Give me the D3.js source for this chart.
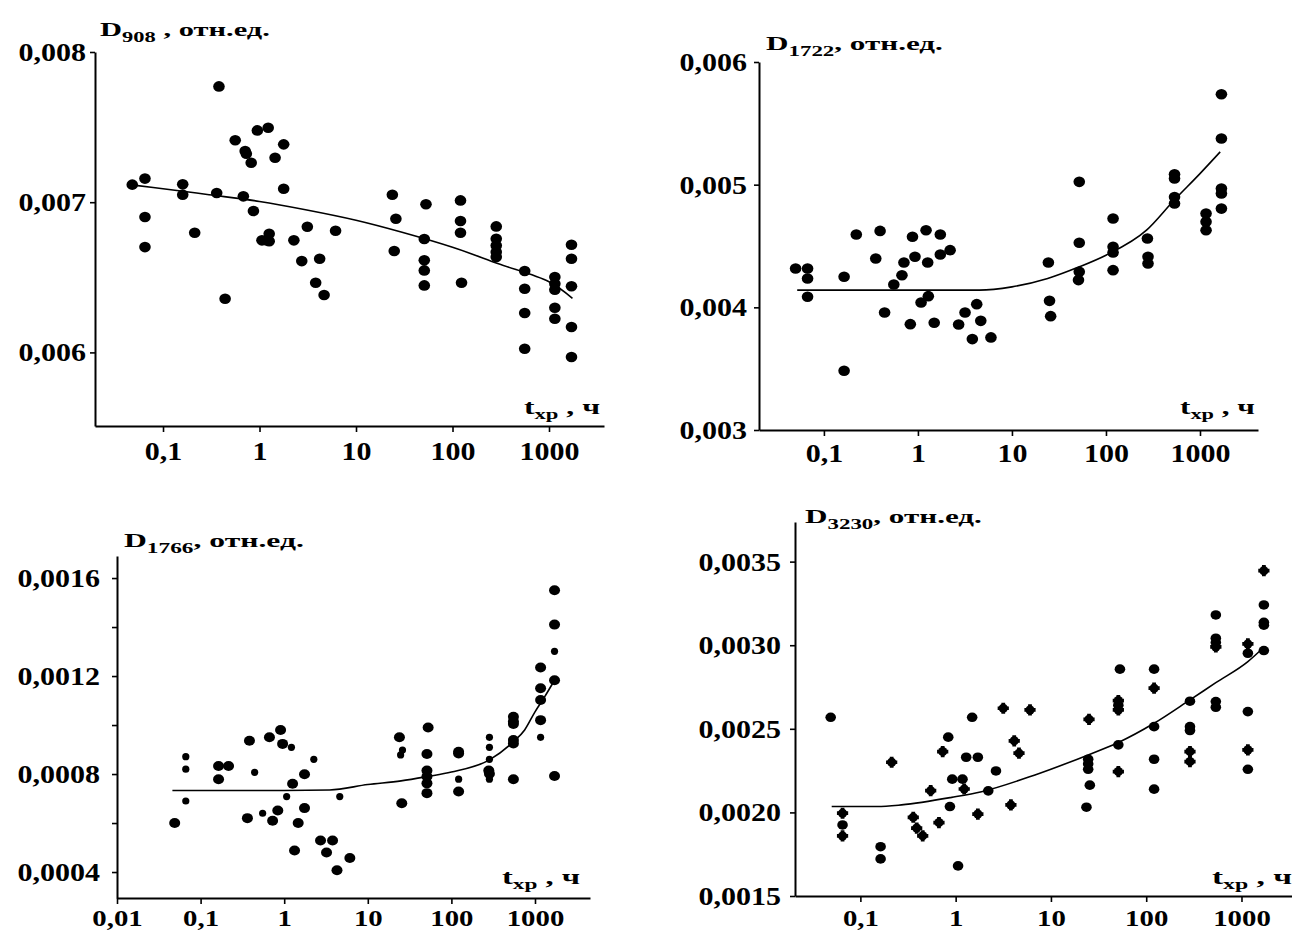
<!DOCTYPE html>
<html><head><meta charset="utf-8">
<script src="https://cdn.jsdelivr.net/npm/d3@7"></script>
<style>body{margin:0;background:#fff}svg{display:block}</style>
</head><body>
<svg id="c" width="1292" height="933"></svg>
<script>
// ---------- tick values ----------
const xTicks = [0.1, 1, 10, 100, 1000];
const xTicks3 = [0.01, 0.1, 1, 10, 100, 1000];
const yTicks1 = [0.006, 0.007, 0.008];
const yTicks2 = [0.003, 0.004, 0.005, 0.006];
const yTicks3 = [0.0004, 0.0006, 0.0008, 0.0010, 0.0012, 0.0014, 0.0016];
const yLabels3 = [0.0004, 0.0008, 0.0012, 0.0016];
const yTicks4 = [0.0015, 0.0020, 0.0025, 0.0030, 0.0035];

// ---------- panel 1: D908 ----------
const p1T = [0.048,0.065,0.065,0.065,0.160,0.160,0.213,0.38,0.36,0.44,0.56,0.71,0.73,0.82,0.68,0.865,0.95,1.23,1.06,1.18,1.26,1.26,1.45,1.78,1.78,2.27,2.74,3.13,3.82,4.2,4.67,6.14,23.8,25.9,24.9,53.1,51,51,51,51,121,121,121,124,284,284,284,284,284,560,560,560,560,1150,1150,1150,1150,1150,1710,1710,1710,1710,1710];
const p1D = [0.007117,0.007157,0.006901,0.006701,0.007119,0.00705,0.006797,0.007771,0.007061,0.006357,0.007412,0.007341,0.007323,0.007263,0.007039,0.006941,0.007478,0.007496,0.006746,0.006746,0.00679,0.00674,0.007296,0.007385,0.00709,0.006746,0.006608,0.006837,0.006464,0.006624,0.006382,0.00681,0.00705,0.00689,0.006675,0.006986,0.006755,0.006613,0.006546,0.006446,0.007012,0.006875,0.006797,0.006464,0.006839,0.006757,0.006712,0.006668,0.006635,0.006542,0.006424,0.006262,0.006024,0.006502,0.006457,0.006417,0.006297,0.006224,0.006717,0.006624,0.00644,0.006169,0.005969];
const p1FitT = [0.052,0.1,0.3,1,3,10,30,100,300,1000,1750];
const p1FitD = [0.007112,0.00709,0.00705,0.007005,0.00695,0.00688,0.0068,0.0067,0.00659,0.00647,0.00636];

// ---------- panel 2: D1722 ----------
const p2T = [0.050,0.067,0.067,0.067,0.164,0.164,0.221,0.356,0.396,0.442,0.554,0.676,0.71,0.83,0.875,0.93,1.08,1.22,1.27,1.29,1.49,1.73,1.73,2.2,2.71,3.17,3.79,4.22,4.66,5.98,24.4,25.1,25.8,52,52,52,51,119,119,119,119,276,280,280,536,536,536,536,1160,1160,1160,1690,1690,1690,1690,1690];
const p2D = [0.004317,0.004317,0.004235,0.004086,0.004249,0.003483,0.004594,0.004398,0.004623,0.003958,0.004186,0.004262,0.004365,0.003863,0.004575,0.004412,0.00404,0.004629,0.004365,0.004091,0.003874,0.004594,0.004431,0.004466,0.00386,0.003958,0.003741,0.004026,0.00389,0.003755,0.004365,0.004053,0.003928,0.005023,0.004526,0.00429,0.004222,0.004724,0.004493,0.004447,0.004303,0.004561,0.004412,0.004357,0.005085,0.00505,0.0049,0.004846,0.004765,0.004697,0.004629,0.005737,0.005376,0.004968,0.004928,0.004805];
const p2FitT = [0.052,0.1,1,4.5,10,24,52,100,270,530,1000,1640];
const p2FitD = [0.00414,0.00414,0.00414,0.00414,0.004167,0.004235,0.00433,0.004425,0.004629,0.004873,0.00509,0.005267];

// ---------- panel 3: D1766 (b = large dot, s = small dot) ----------
const p3T = [0.049,0.0665,0.0665,0.0665,0.164,0.216,0.164,0.384,0.443,0.363,0.552,0.666,0.727,0.838,0.905,0.957,1.22,1.07,1.26,1.33,1.47,1.75,1.75,2.26,2.72,3.21,3.79,4.28,4.62,6.1,23.9,24.7,26,25.5,52.7,51,51,51,51,51,122,122,122,122,285,285,285,280,285,285,552,552,552,552,552,552,1167,1167,1167,1167,1167,1713,1713,1713,1713,1713];
const p3D = [0.0006,0.000871,0.00082,0.00069,0.000833,0.000833,0.000779,0.000936,0.000807,0.00062,0.00064,0.00095,0.000609,0.000651,0.00098,0.000923,0.000909,0.000708,0.00076,0.000488,0.0006,0.000799,0.000661,0.00086,0.000529,0.00048,0.000529,0.000407,0.000708,0.000457,0.00095,0.000878,0.000898,0.000681,0.00099,0.000882,0.000814,0.00079,0.000762,0.000722,0.000891,0.000884,0.000779,0.000729,0.00095,0.000909,0.00086,0.000814,0.000801,0.000779,0.001034,0.001014,0.001004,0.000939,0.000925,0.000779,0.001235,0.00115,0.001102,0.00102,0.00095,0.00155,0.00141,0.001301,0.001183,0.000792];
const p3K = ["b","s","s","s","b","b","b","b","s","b","s","b","b","b","b","b","s","s","b","b","b","b","b","s","b","b","b","b","s","b","b","s","s","b","b","b","b","b","b","b","b","b","s","b","s","s","s","b","b","s","b","b","b","b","b","b","b","b","b","b","s","b","b","s","b","b"];
const p3FitT = [0.046,1,3.5,10,25,52,100,285,552,752,1000,1303,1713];
const p3FitD = [0.000733,0.000733,0.000735,0.000757,0.000772,0.00079,0.000808,0.000858,0.000932,0.00098,0.001054,0.001115,0.001183];

// ---------- panel 4: D3230 (c = dot, x = star) ----------
const p4T = [0.0488,0.065,0.065,0.065,0.163,0.163,0.213,0.359,0.39,0.451,0.547,0.668,0.731,0.836,0.871,0.921,1.06,1.18,1.23,1.29,1.49,1.71,1.71,2.2,2.65,3.16,3.8,4.12,4.62,6.03,25.1,24.6,24.6,24.6,25.6,23.6,53,51,51,51,51,51,121,121,121,121,121,288,288,288,288,288,538,538,538,538,538,538,1167,1167,1167,1167,1167,1718,1718,1718,1718,1718];
const p4D = [0.002569,0.001995,0.001925,0.001859,0.001795,0.001722,0.0023,0.001971,0.001906,0.00186,0.00213,0.001939,0.002364,0.00245,0.002035,0.002199,0.00168,0.002199,0.00214,0.00233,0.002569,0.00233,0.00199,0.002129,0.002248,0.002623,0.002045,0.002428,0.002354,0.002613,0.002557,0.002318,0.00229,0.002258,0.002163,0.002031,0.002857,0.002669,0.002641,0.002613,0.002404,0.002244,0.002857,0.002743,0.002513,0.002318,0.002139,0.002665,0.002513,0.00249,0.002364,0.002304,0.003181,0.003042,0.003016,0.00299,0.002663,0.002629,0.003008,0.002952,0.002603,0.002374,0.002258,0.003446,0.003241,0.003137,0.00312,0.002968];
const p4K = ["c","x","c","x","c","c","x","x","x","x","x","x","x","c","c","c","c","c","x","c","c","c","x","c","c","x","x","x","x","x","x","c","c","c","c","c","c","x","c","x","c","x","c","x","c","c","c","c","c","c","x","x","c","c","c","x","c","c","x","c","c","x","c","x","c","c","c","c"];
const p4FitT = [0.05,0.15,0.27,0.91,1.87,6.8,24.6,51,121,288,538,1167,1630];
const p4FitD = [0.002035,0.002035,0.002045,0.00209,0.002124,0.002224,0.002344,0.002418,0.002533,0.002673,0.002776,0.002902,0.002976];

// ---------- drawing ----------
const svg = d3.select("#c");
const FONT = "'Liberation Serif','Times New Roman',serif";
const SX = 1.2;
const fmtX = v => String(v).replace(".", ",");
const fmtY = dec => { const f = d3.format("." + dec + "f"); return v => f(v).replace(".", ","); };

function stretchText(t, x, y, target) {
  const w = t.node().getComputedTextLength();
  t.attr("transform", `translate(${x},${y}) scale(${target / w},1)`);
}

function panel(c) {
  const x = d3.scaleLog().domain(c.xDom).range(c.xRange);
  const y = d3.scaleLinear().domain(c.yDom).range(c.yRange);
  const g = svg.append("g");
  const y0 = c.yRange[0], x0 = c.xRange[0];

  const ax = g.append("g").attr("transform", `translate(0,${y0})`)
    .call(d3.axisBottom(x).tickValues(c.xTicks).tickFormat(fmtX).tickSize(6).tickSizeOuter(0));
  ax.select(".domain").attr("stroke-width", 2);
  ax.selectAll(".tick line").attr("stroke-width", 1.6);
  ax.selectAll(".tick text").attr("font-family", FONT).attr("font-size", c.xFont || 25).attr("font-weight", "bold")
    .attr("fill", "#000").attr("y", c.xLabOff).attr("dy", 0).attr("transform", `scale(${SX},1)`);

  const labSet = new Set((c.yLabels || c.yTicks).map(v => v.toFixed(5)));
  const fy = fmtY(c.yDec);
  const ay = g.append("g").attr("transform", `translate(${x0},0)`)
    .call(d3.axisLeft(y).tickValues(c.yTicks).tickFormat(v => labSet.has(v.toFixed(5)) ? fy(v) : "").tickSize(5).tickSizeOuter(0));
  ay.select(".domain").attr("stroke-width", 2);
  ay.selectAll(".tick line").attr("stroke-width", 1.6);
  ay.selectAll(".tick text").attr("font-family", FONT).attr("font-size", 25).attr("font-weight", "bold")
    .attr("fill", "#000").attr("x", -c.yLabPad / SX).attr("dy", "0.34em").attr("transform", `scale(${SX},1)`);

  // fit line
  const line = d3.line().x(d => x(d[0])).y(d => y(d[1])).curve(c.curve || d3.curveMonotoneX);
  g.append("path").datum(c.fitT.map((t, i) => [t, c.fitD[i]]))
    .attr("d", line).attr("fill", "none").attr("stroke", "#000").attr("stroke-width", 1.6);

  // points
  const pts = c.T.map((t, i) => ({ t, d: c.D[i], k: c.K ? c.K[i] : "b" }));
  const pg = g.append("g");
  pts.forEach(p => {
    const px = x(p.t), py = y(p.d);
    if (p.k === "s") {
      pg.append("circle").attr("cx", px).attr("cy", py).attr("r", 3.6).attr("fill", "#000");
    } else if (p.k === "x") {
      pg.append("circle").attr("cx", px).attr("cy", py).attr("r", 4.6).attr("fill", "#000");
      pg.append("path").attr("d", d3.symbol(d3.symbolCross, 70)()).attr("transform", `translate(${px},${py})`).attr("fill", "#000");
    } else {
      pg.append("ellipse").attr("cx", px).attr("cy", py).attr("rx", c.r + 0.5).attr("ry", c.r).attr("fill", "#000");
    }
  });

  // title
  const tt = g.append("text").attr("font-family", FONT).attr("font-size", 19).attr("font-weight", "bold").attr("fill", "#000");
  tt.append("tspan").text("D");
  tt.append("tspan").attr("font-size", 14).attr("dy", 6).text(c.sub);
  tt.append("tspan").attr("dy", -6).text(c.rest);
  stretchText(tt, c.title[0], c.title[1], c.title[2]);

  // x label
  const xl = g.append("text").attr("font-family", FONT).attr("font-size", 21).attr("font-weight", "bold").attr("fill", "#000");
  xl.append("tspan").text("t");
  xl.append("tspan").attr("font-size", 15).attr("dy", 5).text("хр");
  xl.append("tspan").attr("dy", -5).text(" , ч");
  stretchText(xl, c.xlab[0], c.xlab[1], c.xlab[2]);
}

panel({ xDom: [0.01973, 3715], xRange: [95, 604], yDom: [0.00551, 0.008], yRange: [426, 52],
  xTicks: xTicks, yTicks: yTicks1, yDec: 3, yLabPad: 9, xLabOff: 34,
  T: p1T, D: p1D, fitT: p1FitT, fitD: p1FitD, r: 5.3, curve: d3.curveCatmullRom.alpha(0.5),
  sub: "908", rest: " , отн.ед.", title: [100, 36, 170], xlab: [524, 414, 76] });

panel({ xDom: [0.0204, 4140], xRange: [759, 1258], yDom: [0.003, 0.006], yRange: [430, 62],
  xTicks: xTicks, yTicks: yTicks2, yDec: 3, yLabPad: 12, xLabOff: 32,
  T: p2T, D: p2D, fitT: p2FitT, fitD: p2FitD, r: 5.3,
  sub: "1722", rest: ", отн.ед.", title: [766, 50, 177], xlab: [1180, 414, 75] });

panel({ xDom: [0.01, 4550], xRange: [117, 590], yDom: [0.000294, 0.00169], yRange: [898, 556],
  xTicks: xTicks3, yTicks: yTicks3, yLabels: yLabels3, yDec: 4, yLabPad: 17, xLabOff: 28, xFont: 24,
  T: p3T, D: p3D, K: p3K, fitT: p3FitT, fitD: p3FitD, r: 5,
  sub: "1766", rest: ", отн.ед.", title: [124, 547, 180], xlab: [502, 884, 78] });

panel({ xDom: [0.0206, 3390], xRange: [795, 1292], yDom: [0.0015, 0.003737], yRange: [896, 522],
  xTicks: xTicks, yTicks: yTicks4, yDec: 4, yLabPad: 14, xLabOff: 30, xFont: 24,
  T: p4T, D: p4D, K: p4K, fitT: p4FitT, fitD: p4FitD, r: 4.8,
  sub: "3230", rest: ", отн.ед.", title: [805, 523, 177], xlab: [1212, 884, 80] });
</script>
</body></html>
